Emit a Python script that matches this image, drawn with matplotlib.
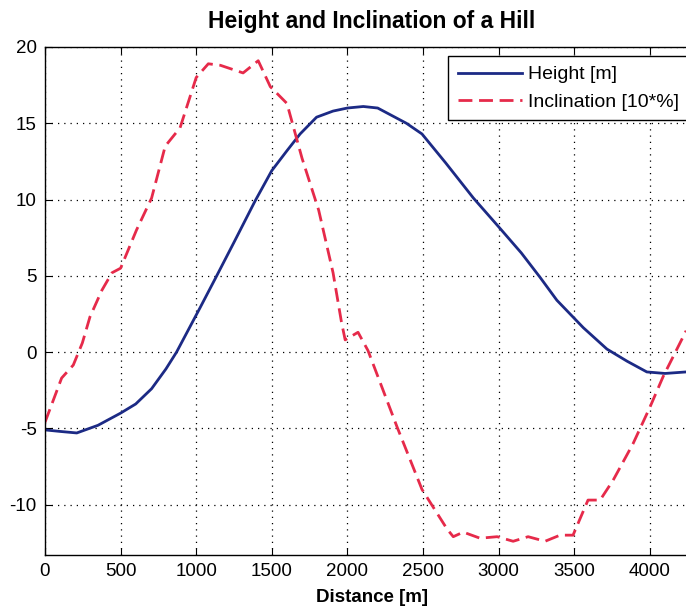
import matplotlib
matplotlib.use("Agg")
import matplotlib.pyplot as plt

plt.rcParams['font.family'] = ['Liberation Sans', 'DejaVu Sans']
plt.rcParams['axes.unicode_minus'] = False

# distance [m] and height [m]
dist_h = [0, 100, 210, 350, 500, 600, 705, 800, 870, 1025, 1125, 1250, 1389,
          1500, 1600, 1687, 1796, 1905, 2000, 2105, 2200, 2390, 2493, 2650,
          2833, 3010, 3150, 3274, 3385, 3560, 3716, 3850, 3980, 4100, 4240]
height = [-5.1, -5.2, -5.3, -4.8, -4.0, -3.4, -2.4, -1.1, 0.0, 2.9, 4.8, 7.2,
          9.9, 11.9, 13.2, 14.3, 15.4, 15.8, 16.0, 16.1, 16.0, 15.0, 14.3,
          12.4, 10.1, 8.1, 6.5, 4.9, 3.4, 1.6, 0.2, -0.6, -1.3, -1.4, -1.3]

# distance [m] and inclination [10*%]
dist_i = [0, 110, 187, 247, 297, 376, 443, 500, 605, 705, 795, 893, 1000,
          1080, 1160, 1310, 1410, 1490, 1600, 1700, 1810, 1905, 1960, 1985,
          2070, 2136, 2328, 2493, 2659, 2700, 2766, 2877, 2990, 3096, 3195,
          3307, 3406, 3492, 3591, 3671, 3757, 3889, 4001, 4088, 4240]
inclination = [-4.6, -1.7, -0.85, 0.6, 2.3, 4.05, 5.2, 5.5, 8.0, 10.1, 13.5,
               14.7, 18.0, 18.9, 18.8, 18.3, 19.1, 17.4, 16.3, 12.7, 9.3, 5.2,
               2.0, 0.8, 1.3, 0.1, -4.9, -9.0, -11.6, -12.1, -11.8, -12.2,
               -12.1, -12.4, -12.1, -12.4, -12.0, -12.0, -9.7, -9.7, -8.4,
               -6.0, -3.6, -1.6, 1.4]

W, H = 686, 609
fig = plt.figure(figsize=(W / 100, H / 100), dpi=100)
ax = fig.add_axes([45 / W, (H - 555) / H, (699 - 45) / W, (555 - 47) / H])

ax.plot(dist_h, height, color='#1c2a85', lw=2.0, label='Height [m]')
ax.plot(dist_i, inclination, color='#e62a4a', lw=2.0, dashes=(5.0, 2.4),
        label='Inclination [10*%]')

ax.set_xlim(0, 4325)
ax.set_ylim(-13.3, 20)
ax.set_xticks(range(0, 4001, 500))
ax.set_yticks([-10, -5, 0, 5, 10, 15, 20])
ax.grid(True, color='black', linestyle=(0, (1, 4)), lw=0.9)
ax.tick_params(direction='in', top=True, right=True, length=5, labelsize=13.5,
               pad=6)
for s in ax.spines.values():
    s.set_linewidth(1.0)

ax.set_title('Height and Inclination of a Hill', fontsize=16.5,
             fontweight='bold', pad=14)
ax.set_xlabel('Distance [m]', fontsize=13.5, fontweight='bold', labelpad=6)

leg = ax.legend(loc='upper left', bbox_to_anchor=(448 / W, (H - 56) / H),
                bbox_transform=fig.transFigure, borderaxespad=0,
                fontsize=14, fancybox=False, framealpha=1, edgecolor='black',
                handlelength=3.3, borderpad=0.5, labelspacing=0.5,
                handletextpad=0.3)
leg.get_frame().set_linewidth(1.0)

fig.savefig('out.png', dpi=100)
